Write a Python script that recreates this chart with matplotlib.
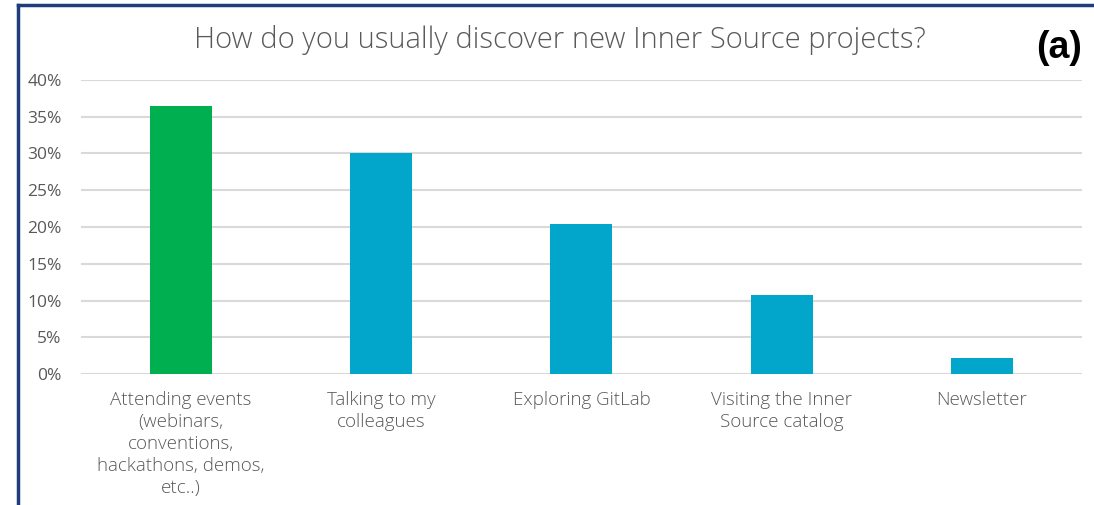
import numpy as np
from matplotlib import pyplot as plt
from matplotlib.lines import Line2D
from matplotlib.ticker import PercentFormatter

categories = ['Attending events\n(webinars,\nconventions,\nhackathons, demos,\netc..)',
              'Talking to my\ncolleagues',
              'Exploring GitLab',
              'Visiting the Inner\nSource catalog',
              'Newsletter']
values = [36.5, 30.1, 20.4, 10.7, 2.2]
bar_colors = ['#00B050', '#02A6CB', '#02A6CB', '#02A6CB', '#02A6CB']
yticks = [0, 5, 10, 15, 20, 25, 30, 35, 40]

grey = '#595959'
plt.rcParams['font.family'] = ['Open Sans', 'DejaVu Sans']

fig = plt.figure(figsize=(10.94, 5.05), dpi=100)
ax = fig.add_axes([0.074, 0.2594, 0.915, 0.5822])

x = np.arange(len(categories))
ax.bar(x, values, width=0.31, color=bar_colors, zorder=3)
ax.set_xlim(-0.5, len(categories) - 0.5)
ax.set_ylim(0, 40)
ax.set_yticks(yticks)
ax.yaxis.set_major_formatter(PercentFormatter(decimals=0))
ax.set_xticks(x)
ax.set_xticklabels(categories, fontsize=13.5, color=grey, linespacing=1.3,
                   fontweight='light')
ax.tick_params(axis='y', labelsize=12.5, colors=grey, length=0, pad=14)
ax.tick_params(axis='x', length=0, pad=12)
ax.grid(axis='y', color='#d9d9d9', linewidth=1.5, zorder=0)
for s in ax.spines.values():
    s.set_visible(False)

fig.text(0.512, 0.921, 'How do you usually discover new Inner Source projects?',
         ha='center', va='center', fontsize=21, color=grey, fontweight='light')
fig.text(0.968, 0.905, '(a)', ha='center', va='center', fontsize=27,
         fontweight='bold', color='black', family='Liberation Sans')

# frame around the panel
fig.add_artist(Line2D([0.0165, 0.0165], [0, 0.99], color='#1f3d7a', linewidth=2.5))
fig.add_artist(Line2D([0.0165, 1.0], [0.99, 0.99], color='#1f3d7a', linewidth=2.5))

fig.savefig('out.png', dpi=100)
